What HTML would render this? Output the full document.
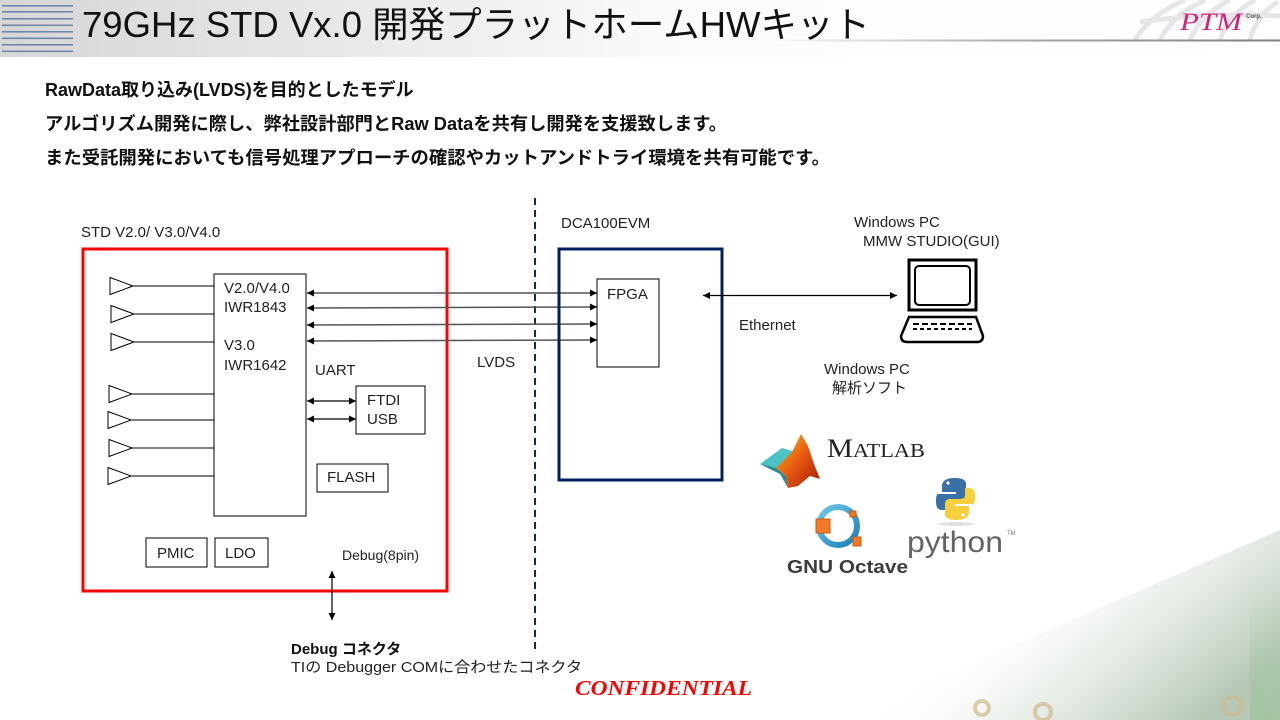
<!DOCTYPE html>
<html><head><meta charset="utf-8"><style>
html,body{margin:0;padding:0;background:#fff;}
svg{display:block;}
.t{font-family:"Liberation Sans","Noto Sans CJK JP",sans-serif;}
</style></head><body>
<svg width="1280" height="720" viewBox="0 0 1280 720" xmlns="http://www.w3.org/2000/svg" class="t">
<defs>
  <linearGradient id="hdr" x1="0" y1="0" x2="1" y2="0">
    <stop offset="0" stop-color="#d6d6d6"/>
    <stop offset="0.55" stop-color="#fcfcfc"/>
    <stop offset="1" stop-color="#ffffff"/>
  </linearGradient>
  <linearGradient id="hline" x1="760" y1="0" x2="1280" y2="0" gradientUnits="userSpaceOnUse">
    <stop offset="0" stop-color="#ffffff"/>
    <stop offset="0.5" stop-color="#a8a8a8"/>
    <stop offset="1" stop-color="#808080"/>
  </linearGradient>
  <linearGradient id="pcb" x1="1010" y1="590" x2="1150" y2="760" gradientUnits="userSpaceOnUse">
    <stop offset="0" stop-color="#ffffff" stop-opacity="0"/>
    <stop offset="0.4" stop-color="#dfe7df" stop-opacity="0.5"/>
    <stop offset="1" stop-color="#9fb59f" stop-opacity="0.75"/>
  </linearGradient>
  <linearGradient id="strip" x1="0" y1="0" x2="0" y2="1">
    <stop offset="0" stop-color="#9cc79c" stop-opacity="0"/>
    <stop offset="1" stop-color="#8fc08f" stop-opacity="0.5"/>
  </linearGradient>
  <linearGradient id="mred" x1="0" y1="0" x2="1" y2="1">
    <stop offset="0" stop-color="#f4c020"/>
    <stop offset="0.5" stop-color="#e85a10"/>
    <stop offset="1" stop-color="#a01808"/>
  </linearGradient>
  <linearGradient id="oct" x1="0" y1="0" x2="1" y2="1">
    <stop offset="0" stop-color="#6ec6e8"/>
    <stop offset="1" stop-color="#1b7fb8"/>
  </linearGradient>
  <marker id="ah" viewBox="0 0 10 10" refX="10" refY="5" markerUnits="userSpaceOnUse" markerWidth="8" markerHeight="7" orient="auto-start-reverse">
    <path d="M0,0 L10,5 L0,10 z" fill="#000"/>
  </marker>
</defs>

<!-- header -->
<rect x="0" y="0" width="1280" height="57" fill="url(#hdr)"/>
<g fill="#6f87a6">
  <rect x="2" y="5" width="71" height="1.6"/>
  <rect x="2" y="11" width="71" height="1.6"/>
  <rect x="2" y="18" width="71" height="1.6"/>
  <rect x="2" y="24.5" width="71" height="1.6"/>
  <rect x="2" y="31" width="71" height="1.6"/>
  <rect x="2" y="37.5" width="71" height="1.6"/>
  <rect x="2" y="44" width="71" height="1.6"/>
  <rect x="2" y="50.5" width="71" height="1.6"/>
</g>
<text x="82" y="37" font-size="36" fill="#111" textLength="788" lengthAdjust="spacingAndGlyphs">79GHz STD Vx.0 開発プラットホームHWキット</text>
<!-- logo grid -->
<g fill="none" stroke="#e6e6e6" stroke-width="5">
  <path d="M1135,40 Q1150,15 1185,0"/>
  <path d="M1160,40 Q1172,15 1205,0"/>
  <path d="M1190,40 Q1200,15 1230,0"/>
  <path d="M1220,40 Q1228,15 1255,0"/>
  <path d="M1250,40 Q1256,15 1278,2"/>
  <path d="M1140,22 Q1210,12 1280,16"/>
</g>
<text x="1180" y="30" font-size="25" fill="#d2237f" font-family="Liberation Serif, serif" font-style="italic" textLength="62" lengthAdjust="spacingAndGlyphs">PTM</text>
<text x="1246" y="18" font-size="6" font-weight="bold" fill="#555">Corp.</text>
<rect x="760" y="39.5" width="520" height="2" fill="url(#hline)"/>

<!-- body text -->
<g font-weight="bold" font-size="18" fill="#111">
  <text x="45" y="96">RawData取り込み(LVDS)を目的としたモデル</text>
  <text x="45" y="130" textLength="682" lengthAdjust="spacingAndGlyphs">アルゴリズム開発に際し、弊社設計部門とRaw Dataを共有し開発を支援致します。</text>
  <text x="45" y="164" textLength="785" lengthAdjust="spacingAndGlyphs">また受託開発においても信号処理アプローチの確認やカットアンドトライ環境を共有可能です。</text>
</g>

<!-- PCB background -->
<polygon points="840,720 1280,530 1280,720" fill="url(#pcb)"/>
<rect x="1250" y="590" width="30" height="130" fill="url(#strip)"/>
<g fill="none" stroke="#cdb98a" stroke-width="4" opacity="0.7">
  <circle cx="1232" cy="706" r="9"/>
  <circle cx="1043" cy="712" r="8"/>
  <circle cx="982" cy="708" r="7"/>
</g>

<!-- dashed divider -->
<line x1="535" y1="198" x2="535" y2="650" stroke="#0f2a5c" stroke-width="2" stroke-dasharray="7 5"/>

<!-- STD board -->
<text x="81" y="237" font-size="15" fill="#222">STD V2.0/ V3.0/V4.0</text>
<rect x="83" y="249" width="364" height="342" fill="none" stroke="#ff0000" stroke-width="3"/>
<rect x="214" y="274" width="92" height="242" fill="none" stroke="#000" stroke-width="1"/>

<!-- antenna triangles -->
<g fill="#fff" stroke="#000" stroke-width="1">
  <polygon points="110,277.5 133,286 110,294.5"/>
  <polygon points="111,305.5 134,314 111,322.5"/>
  <polygon points="111,333.5 134,342 111,350.5"/>
  <polygon points="109,385.5 132,394 109,402.5"/>
  <polygon points="108,411.5 131,420 108,428.5"/>
  <polygon points="109,439.5 132,448 109,456.5"/>
  <polygon points="108,467.5 131,476 108,484.5"/>
</g>
<g stroke="#000" stroke-width="1">
  <line x1="133" y1="286" x2="214" y2="286"/>
  <line x1="134" y1="314" x2="214" y2="314"/>
  <line x1="134" y1="342" x2="214" y2="342"/>
  <line x1="132" y1="394" x2="214" y2="394"/>
  <line x1="131" y1="420" x2="214" y2="420"/>
  <line x1="132" y1="448" x2="214" y2="448"/>
  <line x1="131" y1="476" x2="214" y2="476"/>
</g>

<g font-size="15" fill="#222">
  <text x="224" y="293">V2.0/V4.0</text>
  <text x="224" y="312">IWR1843</text>
  <text x="224" y="350">V3.0</text>
  <text x="224" y="370">IWR1642</text>
  <text x="315" y="375">UART</text>
  <text x="367" y="405">FTDI</text>
  <text x="367" y="424">USB</text>
  <text x="327" y="482">FLASH</text>
  <text x="157" y="558">PMIC</text>
  <text x="225" y="558">LDO</text>
  <text x="342" y="560" font-size="14">Debug(8pin)</text>
</g>
<rect x="356" y="386" width="69" height="48" fill="none" stroke="#000" stroke-width="1"/>
<rect x="317" y="464" width="71" height="28" fill="none" stroke="#000" stroke-width="1"/>
<rect x="146" y="538" width="61" height="29" fill="none" stroke="#000" stroke-width="1"/>
<rect x="215" y="538" width="53" height="29" fill="none" stroke="#000" stroke-width="1"/>

<!-- FTDI arrows -->
<g stroke="#000" stroke-width="1.2">
  <line x1="307" y1="401" x2="356" y2="401" marker-start="url(#ah)" marker-end="url(#ah)"/>
  <line x1="307" y1="419" x2="356" y2="419" marker-start="url(#ah)" marker-end="url(#ah)"/>
</g>

<!-- LVDS arrows -->
<g stroke="#555" stroke-width="1.5">
  <line x1="307" y1="293" x2="597" y2="293" marker-start="url(#ah)" marker-end="url(#ah)"/>
  <line x1="307" y1="308" x2="597" y2="307" marker-start="url(#ah)" marker-end="url(#ah)"/>
  <line x1="307" y1="325" x2="597" y2="324" marker-start="url(#ah)" marker-end="url(#ah)"/>
  <line x1="307" y1="341" x2="597" y2="340" marker-start="url(#ah)" marker-end="url(#ah)"/>
</g>
<text x="477" y="367" font-size="15" fill="#222">LVDS</text>

<!-- Debug arrow -->
<line x1="332" y1="571" x2="332" y2="620" stroke="#000" stroke-width="1.2" marker-start="url(#ah)" marker-end="url(#ah)"/>
<text x="291" y="654" font-size="15" font-weight="bold" fill="#111">Debug コネクタ</text>
<text x="291" y="672" font-size="15" fill="#222" textLength="291" lengthAdjust="spacingAndGlyphs">TIの Debugger COMに合わせたコネクタ</text>
<text x="575" y="695" font-size="21" font-weight="bold" font-style="italic" fill="#ff0000" font-family="Liberation Serif, serif" textLength="177" lengthAdjust="spacingAndGlyphs">CONFIDENTIAL</text>

<!-- DCA100EVM -->
<text x="561" y="228" font-size="15" fill="#222">DCA100EVM</text>
<rect x="559" y="249" width="163" height="231" fill="none" stroke="#002060" stroke-width="3"/>
<rect x="597" y="279" width="62" height="88" fill="#fff" stroke="#000" stroke-width="1"/>
<text x="607" y="299" font-size="15" fill="#222">FPGA</text>

<!-- Ethernet -->
<line x1="703" y1="295.5" x2="897" y2="295.5" stroke="#000" stroke-width="1.2" marker-start="url(#ah)" marker-end="url(#ah)"/>
<text x="739" y="330" font-size="15" fill="#222">Ethernet</text>

<!-- PC -->
<text x="854" y="227" font-size="15" fill="#222">Windows PC</text>
<text x="863" y="246" font-size="15" fill="#222">MMW STUDIO(GUI)</text>
<rect x="909" y="260" width="67" height="50" fill="#fff" stroke="#000" stroke-width="3"/>
<rect x="915" y="266" width="55" height="39" rx="4" fill="#fff" stroke="#000" stroke-width="2"/>
<path d="M909,317 L976,317 L983,336 Q983,342 977,342 L907,342 Q901,342 901,336 Z" fill="#fff" stroke="#000" stroke-width="2.5"/>
<line x1="913" y1="324" x2="972" y2="324" stroke="#000" stroke-width="2" stroke-dasharray="6 3"/>
<line x1="913" y1="329" x2="972" y2="329" stroke="#000" stroke-width="2" stroke-dasharray="4 3"/>
<text x="824" y="374" font-size="15" fill="#222">Windows PC</text>
<text x="832" y="393" font-size="15" fill="#222">解析ソフト</text>

<!-- MATLAB logo -->
<polygon points="760,464 782,448 796,452 790,466 772,470" fill="#4cc3c6"/>
<polygon points="776,468 792,452 798,440 801,434 808,446 814,464 820,479 810,476 798,486 788,488 786,476" fill="url(#mred)"/>
<polygon points="760,464 776,468 786,476 788,488 780,474" fill="#2a8a90"/>
<text x="827" y="457" font-family="Liberation Serif, serif" fill="#222" textLength="98" lengthAdjust="spacingAndGlyphs"><tspan font-size="26">M</tspan><tspan font-size="20">ATLAB</tspan></text>

<!-- Python logo -->
<path d="M955,478 Q942,478 942,486 L942,492 L956,492 L956,494 L938,494 Q936,494 936,502 Q936,510 942,510 L946,510 L946,503 Q946,499 951,499 L961,499 Q966,499 966,494 L966,484 Q966,478 955,478 Z" fill="#3a70a8"/>
<path d="M956,520 Q969,520 969,512 L969,506 L955,506 L955,504 L973,504 Q975,504 975,496 Q975,488 969,488 L965,488 L965,495 Q965,499 960,499 L950,499 Q945,499 945,504 L945,514 Q945,520 956,520 Z" fill="#f6cf3e"/>
<circle cx="948" cy="483" r="1.6" fill="#fff"/>
<circle cx="963" cy="515" r="1.6" fill="#fff"/>
<ellipse cx="956" cy="524" rx="18" ry="2" fill="#ccc" opacity="0.6"/>
<text x="907" y="552" font-size="30" fill="#646464" textLength="96" lengthAdjust="spacingAndGlyphs">python</text>
<text x="1007" y="535" font-size="6" fill="#777">TM</text>

<!-- Octave logo -->
<circle cx="838" cy="526" r="19" fill="none" stroke="url(#oct)" stroke-width="6"/>
<rect x="816" y="519" width="14" height="14" fill="#f07a28" stroke="#c85a10" stroke-width="1"/>
<rect x="850" y="511" width="6" height="6" fill="#f07a28" stroke="#c85a10" stroke-width="1"/>
<rect x="853" y="537" width="8" height="9" fill="#f07a28" stroke="#c85a10" stroke-width="1"/>
<text x="787" y="573" font-size="18" font-weight="bold" fill="#3d3d3d" textLength="121" lengthAdjust="spacingAndGlyphs">GNU Octave</text>
</svg>
</body></html>
